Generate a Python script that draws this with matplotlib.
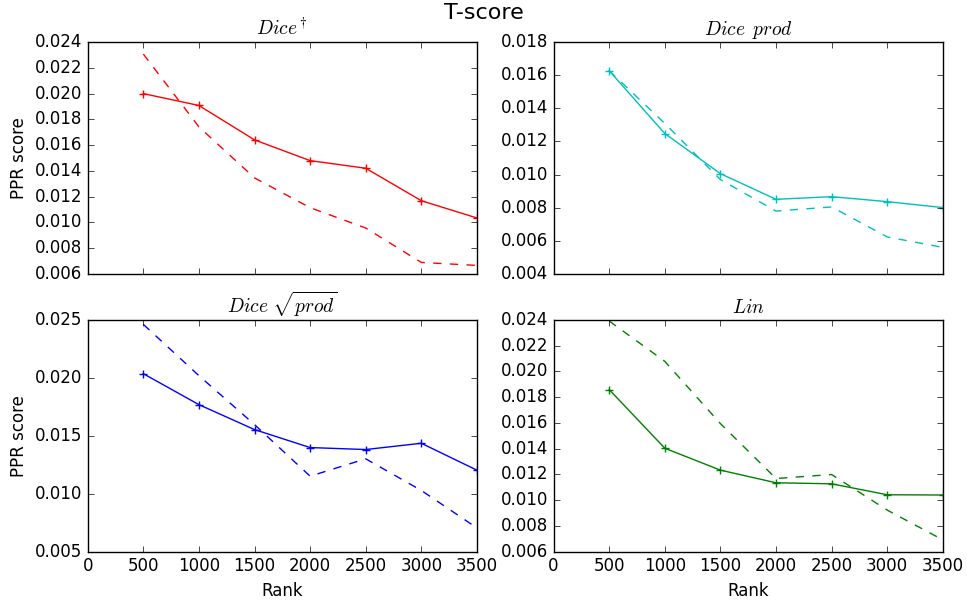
import matplotlib
matplotlib.use("Agg")
import matplotlib.pyplot as plt
import numpy as np

ranks = [500, 1000, 1500, 2000, 2500, 3000, 3500]

dice_dag_solid = [0.0200, 0.01908, 0.01641, 0.01480, 0.01421, 0.01169, 0.01035]
dice_dag_dash = [0.02307, 0.01742, 0.01346, 0.01115, 0.00957, 0.00690, 0.00667]

dice_prod_solid = [0.01627, 0.01248, 0.01006, 0.00851, 0.00867, 0.00837, 0.00801]
dice_prod_dash = [0.01627, 0.01309, 0.00970, 0.00780, 0.00805, 0.00624, 0.00561]

dice_sqrt_solid = [0.02035, 0.01768, 0.01553, 0.01398, 0.01381, 0.01435, 0.01203]
dice_sqrt_dash = [0.02460, 0.02018, 0.01596, 0.01151, 0.01301, 0.01028, 0.00705]

lin_solid = [0.01858, 0.01403, 0.01233, 0.01135, 0.01127, 0.01042, 0.01040]
lin_dash = [0.02390, 0.02077, 0.01594, 0.01168, 0.01199, 0.00923, 0.00692]

titles = [r'$Dice^\dagger$', r'$Dice\ \,prod$', r'$Dice\ \sqrt{prod}$', r'$Lin$']
colors = ['r', 'c', 'b', 'g']
ylims = [(0.006, 0.024), (0.004, 0.018), (0.005, 0.025), (0.006, 0.024)]
ysteps = [0.002, 0.002, 0.005, 0.002]
xticks = [0, 500, 1000, 1500, 2000, 2500, 3000, 3500]

plt.style.use('classic')
fig, axes = plt.subplots(2, 2, figsize=(9.67, 6.01), dpi=100)
fig.patch.set_facecolor('white')
fig.subplots_adjust(left=0.0907, right=0.975, top=0.930, bottom=0.082,
                    hspace=0.197, wspace=0.197)

series = [(dice_dag_solid, dice_dag_dash), (dice_prod_solid, dice_prod_dash),
          (dice_sqrt_solid, dice_sqrt_dash), (lin_solid, lin_dash)]

for i, ax in enumerate(axes.flat):
    s, d = series[i]
    c = colors[i]
    ax.plot(ranks, s, '-', color=c, marker='+', markersize=6, markeredgewidth=1.0, linewidth=1.0)
    ax.plot(ranks, d, '--', color=c, linewidth=1.0)
    ax.set_xlim(0, 3500)
    lo, hi = ylims[i]
    ax.set_ylim(lo, hi)
    ax.set_yticks(np.arange(lo, hi + ysteps[i] / 2, ysteps[i]))
    ax.yaxis.set_major_formatter(matplotlib.ticker.FormatStrFormatter('%.3f'))
    ax.set_xticks(xticks)
    ax.set_title(titles[i], fontsize=14)
    ax.set_facecolor('white')
    if i < 2:
        ax.set_xticklabels([])
    else:
        ax.set_xlabel('Rank', fontsize=12)
    if i % 2 == 0:
        ax.set_ylabel('PPR score', fontsize=12)

fig.suptitle('T-score', fontsize=16, y=0.995)
fig.savefig('out.png', dpi=100, facecolor='white')
